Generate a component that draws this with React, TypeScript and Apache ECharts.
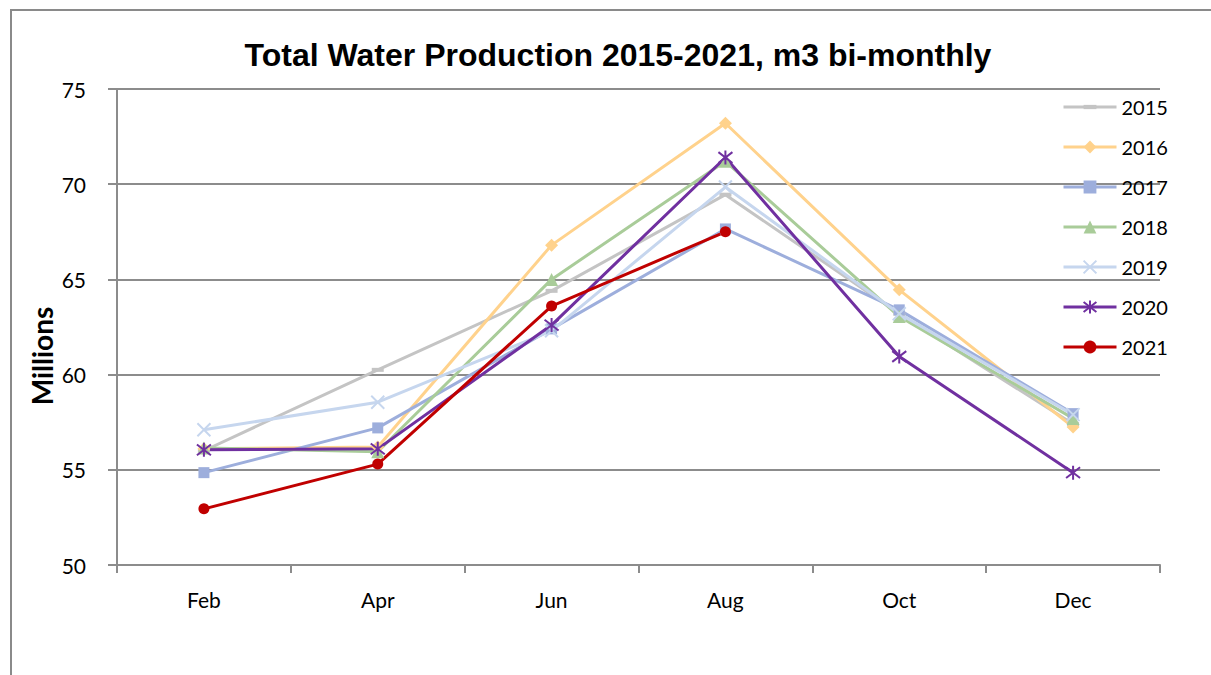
import React, { useEffect, useRef } from "react";
import * as echarts from "echarts";

const months = ["Feb", "Apr", "Jun", "Aug", "Oct", "Dec"];
const yearNames = ["2015", "2016", "2017", "2018", "2019", "2020", "2021"];
const v2015 = [56.0, 60.25, 64.4, 69.45, 63.2, 57.4];
const v2016 = [56.1, 56.2, 66.8, 73.2, 64.45, 57.25];
const v2017 = [54.85, 57.2, 62.4, 67.65, 63.4, 57.95];
const v2018 = [56.15, 55.95, 65.0, 71.2, 63.05, 57.7];
const v2019 = [57.1, 58.55, 62.3, 69.85, 63.2, 57.9];
const v2020 = [56.05, 56.1, 62.6, 71.4, 60.95, 54.85];
const v2021 = [52.95, 55.3, 63.6, 67.5, null, null];

const titleText = "Total Water Production 2015-2021, m3 bi-monthly";
const yName = "Millions";

const DASHSYM = "path://M0,0M0,4L12,4L12,8L0,8ZM12,12";
const XSYM = "path://M0,0L10,10M10,0L0,10";
const STARSYM = "path://M0,0L10,10M10,0L0,10M5,-1.5L5,11.5";

export default function App() {
  const ref = useRef<HTMLDivElement>(null);
  useEffect(() => {
    if (!ref.current) return;
    const chart = echarts.init(ref.current, null, { renderer: "svg" });
    const styles: any[] = [
      { color: "#C4C4C4", symbol: DASHSYM, size: 12 },
      { color: "#FFD28C", symbol: "diamond", size: 13 },
      { color: "#9DAEDC", symbol: "rect", size: 11 },
      { color: "#A9CC99", symbol: "triangle", size: 13 },
      { color: "#C6D6EE", symbol: XSYM, size: 13, stroke: true },
      { color: "#7030A0", symbol: STARSYM, size: 14, stroke: true },
      { color: "#C00000", symbol: "circle", size: 11 },
    ];
    const data = [v2015, v2016, v2017, v2018, v2019, v2020, v2021];
    const series = yearNames.map((name, i) => {
      const s = styles[i];
      return {
        name,
        type: "line",
        data: data[i],
        symbol: s.symbol,
        symbolSize: s.size,
        showAllSymbol: true,
        lineStyle: { color: s.color, width: 3 },
        itemStyle: s.stroke
          ? { color: s.color, borderColor: s.color, borderWidth: 2 }
          : { color: s.color, borderWidth: 0 },
        emphasis: { disabled: true },
      };
    });
    chart.setOption({
      animation: false,
      backgroundColor: "#ffffff",
      title: {
        text: titleText,
        left: 613,
        top: 34,
        textAlign: "center",
        textStyle: {
          fontFamily: "Liberation Sans",
          fontWeight: "bold",
          fontSize: 32,
          color: "#000",
        },
      },
      legend: {
        orient: "vertical",
        left: 1057,
        top: 92,
        itemWidth: 53,
        itemHeight: 16,
        itemGap: 20,
        lineStyle: { width: 3 },
        data: yearNames,
        textStyle: { fontFamily: "Lato", fontSize: 20, color: "#000" },
      },
      grid: { left: 117, right: 51, top: 89, bottom: 110 },
      xAxis: {
        type: "category",
        data: months,
        boundaryGap: true,
        axisLine: { lineStyle: { color: "#8C8C8C", width: 2 } },
        axisTick: { show: true, length: 8, lineStyle: { color: "#8C8C8C", width: 2 } },
        axisLabel: { fontFamily: "Lato", fontSize: 21, color: "#000", margin: 24 },
        splitLine: { show: false },
      },
      yAxis: {
        type: "value",
        min: 50,
        max: 75,
        interval: 5,
        axisLine: { show: true, lineStyle: { color: "#8C8C8C", width: 2 } },
        axisTick: { show: true, length: 9, lineStyle: { color: "#8C8C8C", width: 2 } },
        axisLabel: { fontFamily: "Lato", fontSize: 21, color: "#000", margin: 31 },
        splitLine: { show: true, lineStyle: { color: "#8C8C8C", width: 2 } },
      },
      graphic: [
        {
          type: "rect",
          shape: { x: 11, y: 10, width: 1400, height: 900 },
          style: { fill: "none", stroke: "#8A8A8A", lineWidth: 2 },
          silent: true,
        },
        {
          type: "text",
          x: 42,
          y: 356,
          rotation: Math.PI / 2,
          style: {
            text: yName,
            fontFamily: "Lato",
            fontWeight: "bold",
            fontSize: 28,
            fill: "#000",
            textAlign: "center",
            textVerticalAlign: "middle",
          },
        },
      ],
      series,
    });
    return () => chart.dispose();
  }, []);
  return (
    <div
      ref={ref}
      style={{ position: "absolute", left: 0, top: 0, width: 1211, height: 675 }}
    />
  );
}
